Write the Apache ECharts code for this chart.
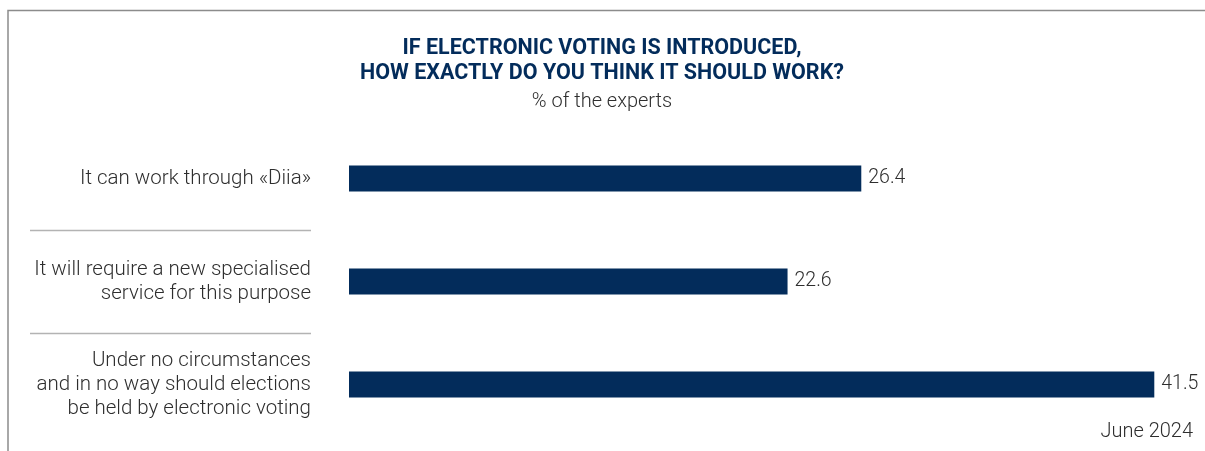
<!DOCTYPE html>
<html>
<head>
<meta charset="utf-8">
<title>Electronic voting</title>
<script src="https://cdn.jsdelivr.net/npm/echarts@6/dist/echarts.min.js"></script>
<style>
  html, body { margin: 0; padding: 0; background: #fff; }
  #chart { width: 1205px; height: 451px; }
</style>
</head>
<body>
<div id="chart"></div>
<script>
// Answer options, top to bottom
const categories = [
  'It can work through «Diia»',
  'It will require a new specialised\nservice for this purpose',
  'Under no circumstances\nand in no way should elections\nbe held by electronic voting'
];
// Share of experts, %
const values = [26.4, 22.6, 41.5];
// Boundaries between neighbouring answers (after category index)
const separators = [0, 1];

const NAVY = '#032c5b';
const TEXT = '#2e2e2e';
const FONT = 'Roboto, "Noto Sans", sans-serif';

const chart = echarts.init(document.getElementById('chart'), null, { renderer: 'canvas' });

chart.setOption({
  animation: false,
  backgroundColor: '#ffffff',
  textStyle: { fontFamily: FONT },
  title: {
    text: 'IF ELECTRONIC VOTING IS INTRODUCED,\nHOW EXACTLY DO YOU THINK IT SHOULD WORK?',
    subtext: '% of the experts',
    left: 597,
    textAlign: 'center',
    top: 31,
    itemGap: 5,
    textStyle: {
      fontFamily: FONT,
      fontSize: 21.5,
      fontWeight: 'bold',
      color: NAVY,
      lineHeight: 25
    },
    subtextStyle: {
      fontFamily: FONT,
      fontSize: 20,
      fontWeight: 300,
      color: TEXT,
      lineHeight: 22
    }
  },
  graphic: [
    {
      type: 'polyline',
      shape: { points: [[8, 451], [8, 10.5], [1205, 10.5]] },
      style: { stroke: '#8c8c8c', lineWidth: 1.5, fill: null },
      silent: true
    },
    {
      type: 'text',
      right: 12,
      top: 422,
      style: {
        text: 'June 2024',
        fontFamily: FONT,
        fontSize: 20,
        fontWeight: 300,
        fill: TEXT
      }
    }
  ],
  grid: {
    left: 349,
    right: 41,
    top: 127,
    bottom: 15,
    containLabel: false
  },
  xAxis: {
    type: 'value',
    min: 0,
    max: 42,
    show: false
  },
  yAxis: {
    type: 'category',
    data: categories,
    inverse: true,
    axisLine: { show: false },
    axisTick: { show: false },
    splitLine: { show: false },
    axisLabel: {
      margin: 38,
      align: 'right',
      fontFamily: FONT,
      fontSize: 20.5,
      fontWeight: 300,
      color: TEXT,
      lineHeight: 24
    }
  },
  series: [
    {
      type: 'bar',
      data: values,
      barWidth: 26,
      itemStyle: { color: NAVY },
      label: {
        show: true,
        position: 'right',
        distance: 7,
        fontFamily: FONT,
        fontSize: 19.5,
        fontWeight: 300,
        color: TEXT,
        formatter: (p) => p.value.toFixed(1)
      }
    },
    {
      // thin rules between answer labels, placed midway between category bands
      type: 'custom',
      clip: false,
      silent: true,
      data: separators,
      renderItem: function (params, api) {
        const i = api.value(0);
        const a = api.coord([0, i]);
        const b = api.coord([0, i + 1]);
        const y = Math.round((a[1] + b[1]) / 2) + 0.5;
        return {
          type: 'line',
          shape: { x1: a[0] - 319, y1: y, x2: a[0] - 38, y2: y },
          style: { stroke: '#b3b3b3', lineWidth: 1.5 }
        };
      },
      encode: { y: 0 }
    }
  ]
});
</script>
</body>
</html>
